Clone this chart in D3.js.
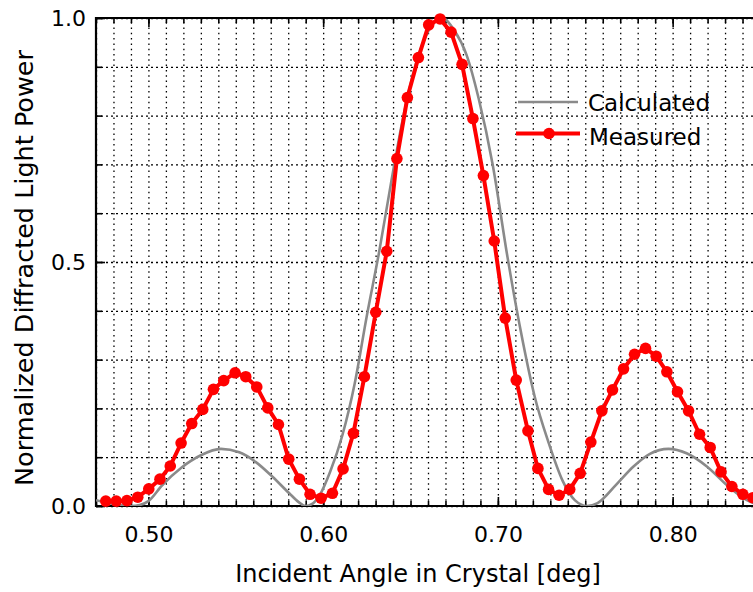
<!DOCTYPE html>
<meta charset="utf-8">
<head>
<script src="https://cdn.jsdelivr.net/npm/d3@7"></script>
<style>
    body { margin: 0; overflow: hidden; background: #fff; }
    .grid path, .ticks path { display: none; }
    .grid line { stroke: #000; stroke-width: 1.3; }
    .ticks line { stroke: #000; stroke-width: 1.6; }
    text { font-family: "DejaVu Sans", sans-serif; fill: #000; }
</style>
</head>
<body>
<div id="graph"></div>
<script>
// calculated curve
var calcAngle = [0.470, 0.480, 0.490, 0.495, 0.500, 0.508, 0.519, 0.530, 0.5415, 0.552,
                 0.5615, 0.571, 0.5806, 0.586, 0.5897, 0.594, 0.598, 0.604, 0.611, 0.618,
                 0.625, 0.632, 0.639, 0.646, 0.653, 0.660, 0.668, 0.675, 0.682, 0.689,
                 0.697, 0.7055, 0.713, 0.721, 0.729, 0.737, 0.744, 0.751, 0.757, 0.768,
                 0.7776, 0.787, 0.7976, 0.808, 0.8196, 0.831, 0.8425, 0.850];
var calcPower = [0.012, 0.004, 0.000, 0.002, 0.010, 0.043, 0.079, 0.104, 0.117, 0.110,
                 0.090, 0.060, 0.026, 0.008, 0.000, 0.005, 0.022, 0.070, 0.145, 0.250,
                 0.390, 0.520, 0.665, 0.800, 0.905, 0.972, 1.000, 0.975, 0.925, 0.835,
                 0.700, 0.510, 0.360, 0.225, 0.130, 0.052, 0.012, 0.000, 0.006, 0.045,
                 0.081, 0.107, 0.117, 0.108, 0.081, 0.043, 0.012, 0.001];

// measured points
var measAngle = [0.4756, 0.4816, 0.4877, 0.4939, 0.5002, 0.5066, 0.5125, 0.5187, 0.5248, 0.5311,
                 0.5372, 0.5431, 0.5496, 0.5557, 0.5620, 0.5683, 0.5744, 0.5803, 0.5864, 0.5925,
                 0.5988, 0.6053, 0.6114, 0.6173, 0.6236, 0.6301, 0.6364, 0.6422, 0.6482, 0.6545,
                 0.6604, 0.6669, 0.6732, 0.6795, 0.6857, 0.6917, 0.6979, 0.7042, 0.7105, 0.7172,
                 0.7229, 0.7290, 0.7350, 0.7411, 0.7471, 0.7532, 0.7595, 0.7656, 0.7719, 0.7782,
                 0.7845, 0.7906, 0.7967, 0.8028, 0.8091, 0.8154, 0.8215, 0.8277, 0.8339, 0.8402,
                 0.8459, 0.8520];
var measPower = [0.010, 0.010, 0.011, 0.018, 0.035, 0.055, 0.082, 0.129, 0.169, 0.198,
                 0.239, 0.257, 0.273, 0.265, 0.244, 0.201, 0.167, 0.096, 0.055, 0.024,
                 0.016, 0.026, 0.076, 0.149, 0.265, 0.397, 0.522, 0.712, 0.837, 0.919,
                 0.986, 0.998, 0.971, 0.905, 0.794, 0.677, 0.543, 0.385, 0.258, 0.154,
                 0.077, 0.034, 0.022, 0.034, 0.067, 0.131, 0.195, 0.238, 0.281, 0.311,
                 0.323, 0.307, 0.275, 0.234, 0.195, 0.147, 0.120, 0.070, 0.040, 0.024,
                 0.017, 0.010];

var xTicks = [0.50, 0.60, 0.70, 0.80];
var xTickLabels = ["0.50", "0.60", "0.70", "0.80"];
var yTicks = [0.0, 0.5, 1.0];
var yTickLabels = ["0.0", "0.5", "1.0"];

var margin = {top: 18, left: 96},
    width = 664,
    height = 488;

var svg = d3.select("#graph")
  .append("svg")
    .attr("width", 753)
    .attr("height", 592)
  .append("g")
    .attr("transform", "translate(" + margin.left + "," + margin.top + ")");

var x = d3.scaleLinear().domain([0.47, 0.85]).range([0, width]);
var y = d3.scaleLinear().domain([0, 1]).range([height, 0]);

var minorX = d3.range(47, 86).map(function(d) { return d / 100; });
var minorY = d3.range(0, 11).map(function(d) { return d / 10; });

// dotted grid
svg.append("g")
    .attr("class", "grid")
    .attr("transform", "translate(0," + height + ")")
    .call(d3.axisBottom(x).tickValues(minorX).tickSize(-height).tickFormat(""))
    .selectAll("line").attr("stroke-dasharray", "1.5,3.8");
svg.append("g")
    .attr("class", "grid")
    .call(d3.axisLeft(y).tickValues(minorY).tickSize(-width).tickFormat(""))
    .selectAll("line").attr("stroke-dasharray", "2,3");

// inward ticks
svg.append("g").attr("class", "ticks")
    .attr("transform", "translate(0," + height + ")")
    .call(d3.axisBottom(x).tickValues(minorX).tickSize(-5).tickFormat(""));
svg.append("g").attr("class", "ticks")
    .attr("transform", "translate(0," + height + ")")
    .call(d3.axisBottom(x).tickValues(xTicks).tickSize(-9).tickFormat(""));
svg.append("g").attr("class", "ticks")
    .call(d3.axisTop(x).tickValues(minorX).tickSize(-5).tickFormat(""));
svg.append("g").attr("class", "ticks")
    .call(d3.axisTop(x).tickValues(xTicks).tickSize(-9).tickFormat(""));
svg.append("g").attr("class", "ticks")
    .call(d3.axisLeft(y).tickValues(minorY).tickSize(-6).tickFormat(""));
svg.append("g").attr("class", "ticks")
    .call(d3.axisLeft(y).tickValues(yTicks).tickSize(-9).tickFormat(""));

// tick labels
svg.append("g").attr("class", "ticks")
    .attr("transform", "translate(0," + height + ")")
    .call(d3.axisBottom(x).tickValues(xTicks).tickSize(0).tickPadding(20)
        .tickFormat(function(d, i) { return xTickLabels[i]; }))
    .selectAll("text").style("font-size", "22px");
svg.append("g").attr("class", "ticks")
    .call(d3.axisLeft(y).tickValues(yTicks).tickSize(0).tickPadding(10)
        .tickFormat(function(d, i) { return yTickLabels[i]; }))
    .selectAll("text").style("font-size", "22px");

// frame
svg.append("path")
    .attr("d", "M" + width + ",0H0V" + height + "H" + width + "V0")
    .attr("fill", "none")
    .attr("stroke", "#000")
    .attr("stroke-width", 2.2);

svg.append("clipPath").attr("id", "clip")
  .append("rect").attr("width", width).attr("height", height);

// calculated line
var calc = calcAngle.map(function(a, i) { return [a, calcPower[i]]; });
svg.append("path")
    .datum(calc)
    .attr("clip-path", "url(#clip)")
    .attr("fill", "none")
    .attr("stroke", "#8a8a8a")
    .attr("stroke-width", 2.6)
    .attr("d", d3.line().curve(d3.curveMonotoneX)
        .x(function(d) { return x(d[0]); })
        .y(function(d) { return y(d[1]); }));

// measured line + dots
var meas = measAngle.map(function(a, i) { return [a, measPower[i]]; });
svg.append("path")
    .datum(meas)
    .attr("fill", "none")
    .attr("stroke", "#f00")
    .attr("stroke-width", 4)
    .attr("stroke-linejoin", "round")
    .attr("d", d3.line()
        .x(function(d) { return x(d[0]); })
        .y(function(d) { return y(d[1]); }));
svg.selectAll("dot")
    .data(meas)
    .enter()
    .append("circle")
    .attr("cx", function(d) { return x(d[0]); })
    .attr("cy", function(d) { return y(d[1]); })
    .attr("r", 5.8)
    .style("fill", "#f00");

// legend
svg.append("line").attr("x1", 422).attr("x2", 482).attr("y1", 84).attr("y2", 84)
    .attr("stroke", "#8a8a8a").attr("stroke-width", 2.6);
svg.append("text").attr("x", 492).attr("y", 93).text("Calculated").style("font-size", "23px");
svg.append("line").attr("x1", 420).attr("x2", 484).attr("y1", 115.5).attr("y2", 115.5)
    .attr("stroke", "#f00").attr("stroke-width", 4);
svg.append("circle").attr("cx", 453).attr("cy", 115.5).attr("r", 5.8).style("fill", "#f00");
svg.append("text").attr("x", 493).attr("y", 127).text("Measured").style("font-size", "23px");

// axis titles
svg.append("text")
    .attr("x", 322)
    .attr("y", height + 76)
    .style("text-anchor", "middle")
    .style("font-size", "24px")
    .text("Incident Angle in Crystal [deg]");
svg.append("text")
    .attr("transform", "rotate(-90)")
    .attr("x", -height / 2 - 6)
    .attr("y", -63)
    .style("text-anchor", "middle")
    .style("font-size", "25.5px")
    .text("Normalized Diffracted Light Power");
</script>
</body>
